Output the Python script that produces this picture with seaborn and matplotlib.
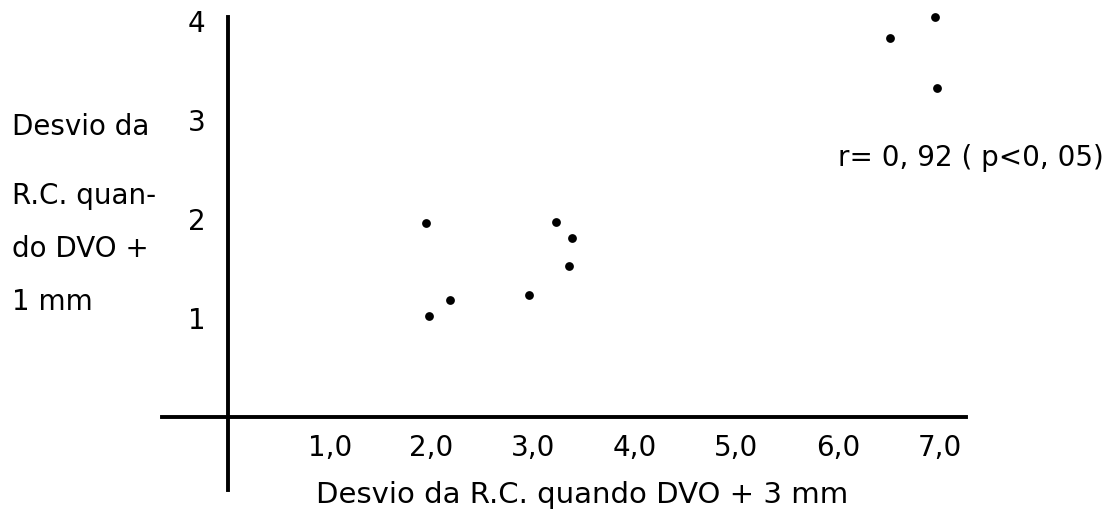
import matplotlib
matplotlib.use("Agg")
import matplotlib.pyplot as plt
import seaborn as sns
import pandas as pd

# desvio da R.C. (DVO + 3 mm) x desvio da R.C. (DVO + 1 mm)
desvio_3mm = [1.95, 1.98, 2.18, 2.96, 3.23, 3.38, 3.35, 6.51, 6.95, 6.97]
desvio_1mm = [1.96, 1.02, 1.18, 1.23, 1.97, 1.81, 1.53, 3.83, 4.04, 3.32]

x_ticks = [1, 2, 3, 4, 5, 6, 7]
x_tick_labels = ["1,0", "2,0", "3,0", "4,0", "5,0", "6,0", "7,0"]
y_ticks = [1, 2, 3, 4]
y_tick_labels = ["1", "2", "3", "4"]

x_label = "Desvio da R.C. quando DVO + 3 mm"
y_label_lines = ["Desvio da", "R.C. quan-", "do DVO +", "1 mm"]
r_text = "r= 0, 92 ( p<0, 05)"

df = pd.DataFrame({"x": desvio_3mm, "y": desvio_1mm})

sns.set_style("white")
plt.rcParams["font.family"] = ["DejaVu Sans"]
plt.rcParams["text.color"] = "black"

FS = 20

fig = plt.figure(figsize=(11.19, 5.11), dpi=100)
ax = fig.add_axes([0.1401, 0.029, 0.7362, 0.9493])

sns.scatterplot(data=df, x="x", y="y", color="black", s=40,
                linewidth=0, ax=ax, zorder=3)

ax.set_xlim(-0.7, 7.4)
ax.set_ylim(-0.8, 4.1)

# eixos cruzando na origem
sns.despine(ax=ax)
ax.spines["left"].set_position(("data", 0))
ax.spines["bottom"].set_position(("data", 0))
ax.spines["left"].set_bounds(-0.74, 4.04)
ax.spines["bottom"].set_bounds(-0.65, 7.26)
for s in ("left", "bottom"):
    ax.spines[s].set_linewidth(2.8)
    ax.spines[s].set_color("black")

ax.set_xticks(x_ticks)
ax.set_xticklabels(x_tick_labels)
ax.set_yticks(y_ticks)
ax.set_yticklabels(y_tick_labels)
ax.tick_params(axis="x", direction="in", length=4, width=2, pad=12,
               labelsize=FS, colors="black")
ax.tick_params(axis="y", direction="in", length=4, width=2, pad=16,
               labelsize=FS, colors="black")
ax.set_xlabel("")
ax.set_ylabel("")

ax.text(7.3, 2.62, r_text, ha="center", va="center", fontsize=FS)

fig.text(582 / 1119, 1 - 495 / 511, x_label, ha="center", va="center", fontsize=FS + 1)
for line, ypx in zip(y_label_lines, [127, 196, 249, 302]):
    fig.text(12 / 1119, 1 - ypx / 511, line, ha="left", va="center", fontsize=FS)

fig.savefig("out.png", dpi=100)
